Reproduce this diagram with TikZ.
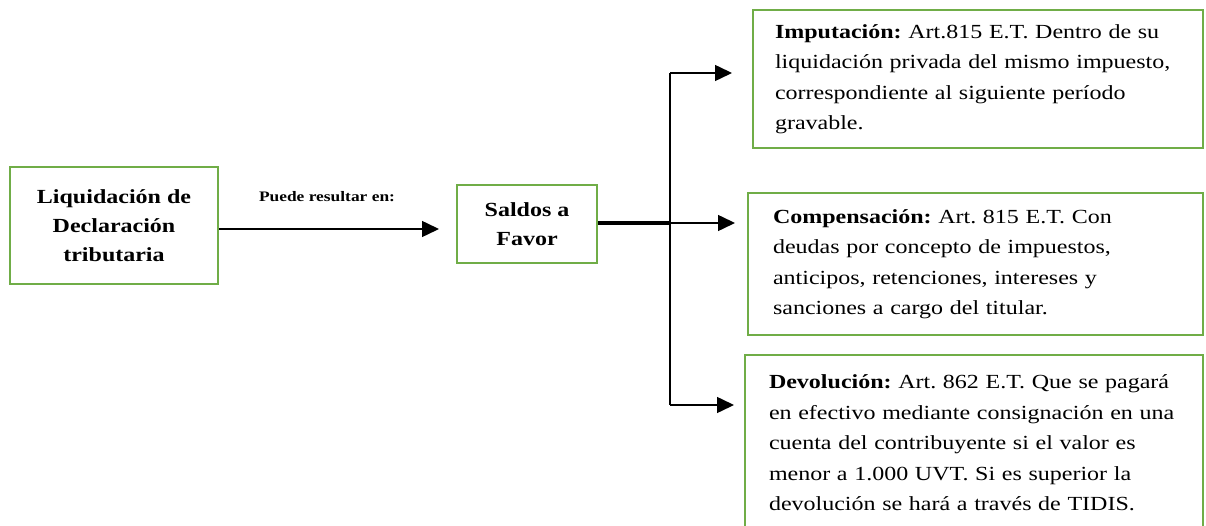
\documentclass[tikz,border=0pt]{standalone}
\usepackage{fontspec}
\setmainfont{Liberation Serif}[FakeStretch=1.2]
\usetikzlibrary{arrows.meta}
\definecolor{boxgreen}{RGB}{112,173,71}
\frenchspacing
\begin{document}
\begin{tikzpicture}[x=1pt,y=-1pt,
  box/.style={draw=boxgreen,line width=2pt,inner sep=0pt},
  bigtxt/.style={font=\bfseries\fontsize{20}{29}\selectfont,align=center},
  desc/.style={box,align=left,font=\frenchspacing\fontsize{20}{30.5}\selectfont},
  arr/.style={-{Triangle[length=17pt,width=16pt]},line width=1.5pt},
  lbl/.style={font=\bfseries\fontsize{14.5}{16}\selectfont}]
\useasboundingbox (0,0) rectangle (1206,526);
\clip (0,0) rectangle (1206,526);
\node[box,bigtxt,minimum width=208pt,minimum height=117pt] (liq) at (114,225.5)
  {Liquidación de\\Declaración\\tributaria};
\node[box,bigtxt,minimum width=140pt,minimum height=78pt] (sal) at (527,224)
  {Saldos a\\Favor};
\node[desc,minimum width=450pt,minimum height=138pt,text width=406pt,inner xsep=22pt] (imp) at (978,79)
  {\textbf{Imputación:} Art.815 E.T. Dentro de su\\liquidación privada del mismo impuesto,\\correspondiente al siguiente período\\gravable.};
\node[desc,minimum width=455pt,minimum height=142pt,text width=405pt,inner xsep=25pt] (com) at (975.5,264)
  {\textbf{Compensación:} Art. 815 E.T. Con\\deudas por concepto de impuestos,\\anticipos, retenciones, intereses y\\sanciones a cargo del titular.};
\node[desc,minimum width=458pt,minimum height=176pt,text width=410pt,inner xsep=24pt] (dev) at (974,443)
  {\textbf{Devolución:} Art. 862 E.T. Que se pagará\\en efectivo mediante consignación en una\\cuenta del contribuyente si el valor es\\menor a 1.000 UVT. Si es superior la\\devolución se hará a través de TIDIS.};
\node[lbl] (lab) at (327,197) {Puede resultar en:};
\coordinate (jc) at (670,223);
\coordinate (jt) at (670,73);
\coordinate (jb) at (670,405);
\draw[arr,shorten >=17pt] (liq.east |- 0,229) -- (sal.west |- 0,229);
\draw[line width=3.5pt] (sal.east |- jc) -- (jc);
\draw[line width=1.5pt] (jt) -- (jb);
\draw[arr,shorten >=20pt] (jt) -- (imp.west |- jt);
\draw[arr,shorten >=12pt] (jc) -- (com.west |- jc);
\draw[arr,shorten >=10pt] (jb) -- (dev.west |- jb);
\end{tikzpicture}
\end{document}
